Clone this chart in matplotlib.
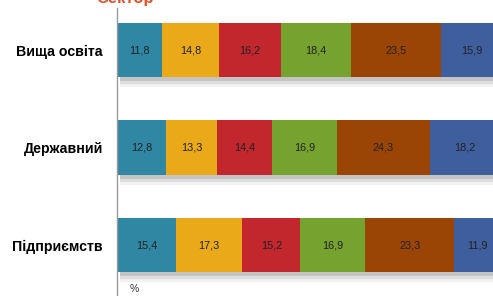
import matplotlib
matplotlib.use("Agg")
import matplotlib.pyplot as plt
import matplotlib.patheffects as pe
import numpy as np

categories = ["Вища освіта", "Державний", "Підприємств"]
series = [
    [11.8, 12.8, 15.4],
    [14.8, 13.3, 17.3],
    [16.2, 14.4, 15.2],
    [18.4, 16.9, 16.9],
    [23.5, 24.3, 23.3],
    [15.9, 18.2, 11.9],
]
labels = [
    ["11,8", "12,8", "15,4"],
    ["14,8", "13,3", "17,3"],
    ["16,2", "14,4", "15,2"],
    ["18,4", "16,9", "16,9"],
    ["23,5", "24,3", "23,3"],
    ["15,9", "18,2", "11,9"],
]
colors = ["#2F87A3", "#E9A918", "#C1272D", "#76A22F", "#9A4405", "#3F5E9E"]

W, H = 493, 296
fig = plt.figure(figsize=(W / 100, H / 100), dpi=100)
ax = fig.add_axes([117 / W, 0, 1 - 117 / W, 1])

y = np.arange(len(categories))
left = np.zeros(len(categories))
shadow = [
    pe.SimplePatchShadow(offset=(2, -7), shadow_rgbFace="#bbbbbb", alpha=0.18),
    pe.SimplePatchShadow(offset=(2, -5), shadow_rgbFace="#999999", alpha=0.22),
    pe.SimplePatchShadow(offset=(2, -3), shadow_rgbFace="#888888", alpha=0.3),
    pe.Normal(),
]
for vals, labs, c in zip(series, labels, colors):
    bars = ax.barh(y, vals, left=left, height=0.56, color=c, edgecolor="none", zorder=2)
    for b in bars:
        b.set_path_effects(shadow)
    for yi, l, v, t in zip(y, left, vals, labs):
        ax.text(l + v / 2, yi, t, ha="center", va="center", fontsize=7.8,
                family="Liberation Sans", color="#222222", zorder=3)
    left = left + np.array(vals)

ax.set_xlim(0, (W - 117) / 3.83)
ax.set_ylim(2.523, -0.513)
ax.set_yticks(y)
ax.set_yticklabels(categories, fontsize=10.2, fontweight="bold", family="Liberation Sans")
ax.tick_params(axis="y", length=0, pad=10)
ax.set_xticks([])
for s in ["top", "right", "bottom"]:
    ax.spines[s].set_visible(False)
ax.spines["left"].set_color("#9a9a9a")
ax.spines["left"].set_linewidth(1.0)
ax.spines["left"].set_bounds(ax.get_ylim()[0], -0.43)

fig.text(134 / W, 1 - 289 / H, "%", fontsize=7.5, ha="center", va="center",
         color="#333333", family="Liberation Sans")
fig.text(125 / W, 1 + 1 / H, "Сектор", fontsize=12, fontweight="bold", ha="center",
         va="center", color="#E0502A", family="Liberation Sans")

fig.savefig("out.png", dpi=100)
